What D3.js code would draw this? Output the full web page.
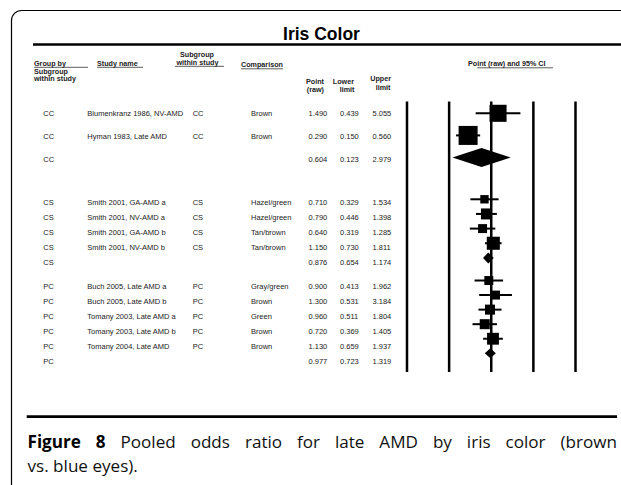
<!DOCTYPE html>
<html><head><meta charset="utf-8">
<script src="https://cdn.jsdelivr.net/npm/d3@7"></script>
<style>html,body{margin:0;padding:0;background:#fff;} svg{display:block;}</style>
</head><body>
<svg id="c" width="621" height="485"></svg>
<script>
// ---------- DATA ----------
const groups = ["CC","CC","CC","CS","CS","CS","CS","CS","PC","PC","PC","PC","PC","PC"];
const studies = ["Blumenkranz 1986, NV-AMD","Hyman 1983, Late AMD","",
  "Smith 2001, GA-AMD a","Smith 2001, NV-AMD a","Smith 2001, GA-AMD b","Smith 2001, NV-AMD b","",
  "Buch 2005, Late AMD a","Buch 2005, Late AMD b","Tomany 2003, Late AMD a","Tomany 2003, Late AMD b","Tomany 2004, Late AMD",""];
const subgroups = ["CC","CC","","CS","CS","CS","CS","","PC","PC","PC","PC","PC",""];
const comparisons = ["Brown","Brown","","Hazel/green","Hazel/green","Tan/brown","Tan/brown","",
  "Gray/green","Brown","Green","Brown","Brown",""];
const points = [1.490,0.290,0.604,0.710,0.790,0.640,1.150,0.876,0.900,1.300,0.960,0.720,1.130,0.977];
const lowers = [0.439,0.150,0.123,0.329,0.446,0.319,0.730,0.654,0.413,0.531,0.511,0.369,0.659,0.723];
const uppers = [5.055,0.560,2.979,1.534,1.398,1.285,1.811,1.174,1.962,3.184,1.804,1.405,1.937,1.319];
const weights = [29,36,null,7,12,8,17,null,8,8,10,10,14,null];
const axisTicks = [0.01,0.1,1,10,100];
const title = "Iris Color";
const captionBold = "Figure 8";
const captionLine1 = " Pooled odds ratio for late AMD by iris color (brown";
const captionLine2 = "vs. blue eyes).";

// ---------- LAYOUT ----------
const svg = d3.select("#c");
const FONT = '"Liberation Sans", Arial, Helvetica, sans-serif';
const groupStart = {CC:113.7, CS:202.3, PC:286};
const groupStep = {CC:22.8, CS:15.1, PC:15};
const diamondHalf = {CC:9.5, CS:5.5, PC:5};

const rows = groups.map((g,i)=>{
  const k = groups.slice(0,i).filter(d=>d===g).length;
  return {group:g, study:studies[i], sub:subgroups[i], comp:comparisons[i],
    p:points[i], lo:lowers[i], hi:uppers[i], w:weights[i], pooled: studies[i]==="",
    y: groupStart[g] + k*groupStep[g]};
});

// frame
svg.append("path")
  .attr("d","M11.5,485 V20.5 A10,10 0 0 1 21.5,10.5 H621")
  .attr("fill","none").attr("stroke","#000").attr("stroke-width",1.2);

// title
svg.append("text").attr("x",321.5).attr("y",40).attr("text-anchor","middle")
  .attr("font-family",FONT).attr("font-weight","bold").attr("font-size",17.5)
  .attr("fill","#000").text(title);
svg.append("line").attr("x1",33).attr("x2",621).attr("y1",44.5).attr("y2",44.5)
  .attr("stroke","#000").attr("stroke-width",2.6);

// headers
const hdr = svg.append("g").attr("font-family",FONT).attr("font-weight","bold")
  .attr("font-size",7.2).attr("fill","#222");
function htext(x,y,t,anchor){
  return hdr.append("text").attr("x",x).attr("y",y).attr("text-anchor",anchor||"start").text(t);
}
function uline(x1,x2,y){
  hdr.append("line").attr("x1",x1).attr("x2",x2).attr("y1",y).attr("y2",y)
    .attr("stroke","#333").attr("stroke-width",0.8);
}
htext(34,65.5,"Group by"); uline(34,88,67.3);
htext(34,73.5,"Subgroup");
htext(34,81.3,"within study");
htext(97,65.5,"Study name"); uline(97,143,67.3);
htext(180,56.5,"Subgroup");
htext(176.5,64.5,"within study"); uline(175,224,66.3);
const cmp = htext(241,67,"Comparison");
uline(241,241+cmp.node().getComputedTextLength(),68.8);
htext(324,84,"Point","end"); htext(324,92.3,"(raw)","end");
htext(354,84,"Lower","end"); htext(354.5,92.3,"limit","end");
htext(391,81.2,"Upper","end"); htext(390.5,89.5,"limit","end");
const pt = htext(468,66,"Point (raw) and 95% CI");
{
  const n = pt.node();
  const pre = n.getSubStringLength(0,2);
  uline(468+pre, 553, 67.8);
}

// body text
const body = svg.append("g").attr("font-family",FONT).attr("font-size",7.5).attr("fill","#222");
const cols = [
  {x:43.3, f:d=>d.group},
  {x:87.3, f:d=>d.study},
  {x:192.7, f:d=>d.sub},
  {x:251, f:d=>d.comp},
  {x:308.5, f:d=>d.p.toFixed(3)},
  {x:340, f:d=>d.lo.toFixed(3)},
  {x:372.5, f:d=>d.hi.toFixed(3)}
];
cols.forEach(c=>{
  body.append("g").selectAll("text").data(rows).join("text")
    .attr("x",c.x).attr("y",d=>d.y+2.7).text(c.f);
});

// forest plot
const x = d3.scaleLog().domain([0.01,100]).range([406.5,575]);
const yp = d3.scaleLinear().domain([113.7,361]).range([113.3,353.3]);
const size = d3.scaleSqrt().domain([0,36]).range([0,19]);

const ax = svg.append("g").attr("transform","translate(0,372)")
  .call(d3.axisBottom(x).tickValues(axisTicks).tickFormat("").tickSize(-270.5).tickSizeOuter(0));
ax.select(".domain").remove();
ax.selectAll(".tick line").attr("stroke","#000").attr("stroke-width",2.5);

const studyRows = rows.filter(d=>!d.pooled);
const pooledRows = rows.filter(d=>d.pooled);
svg.append("g").selectAll("line").data(studyRows).join("line")
  .attr("x1",d=>x(d.lo)).attr("x2",d=>x(d.hi))
  .attr("y1",d=>yp(d.y)).attr("y2",d=>yp(d.y))
  .attr("stroke","#000").attr("stroke-width",2);
svg.append("g").selectAll("rect").data(studyRows).join("rect")
  .attr("x",d=>x(d.p)-size(d.w)/2).attr("y",d=>yp(d.y)-size(d.w)/2)
  .attr("width",d=>size(d.w)).attr("height",d=>size(d.w)).attr("fill","#000");
svg.append("g").selectAll("path").data(pooledRows).join("path")
  .attr("d",d=>{
    const yy=yp(d.y), h=diamondHalf[d.group];
    return `M${x(d.lo)},${yy}L${x(d.p)},${yy-h}L${x(d.hi)},${yy}L${x(d.p)},${yy+h}Z`;
  }).attr("fill","#000");

// bottom rule + caption
svg.append("line").attr("x1",26.7).attr("x2",617).attr("y1",416.7).attr("y2",416.7)
  .attr("stroke","#000").attr("stroke-width",2.7);
const CF = '"Open Sans", "DejaVu Sans", sans-serif';
const fs = 17.1;
const cap2 = svg.append("text").attr("x",27.5).attr("y",472)
  .attr("font-family",CF).attr("font-size",fs).attr("fill","#111").text(captionLine2);
const cap1 = svg.append("text").attr("x",27.5).attr("y",447.5)
  .attr("font-family",CF).attr("font-size",fs).attr("fill","#111");
cap1.append("tspan").attr("font-weight","bold").attr("fill","#000").text(captionBold);
cap1.append("tspan").text(captionLine1);
{
  const nat = cap1.node().getComputedTextLength();
  const spaces = (captionBold + captionLine1).split(" ").length - 1;
  const target = 617 - 27.5;
  cap1.attr("word-spacing", (target - nat)/spaces);
}
</script>
</body></html>
